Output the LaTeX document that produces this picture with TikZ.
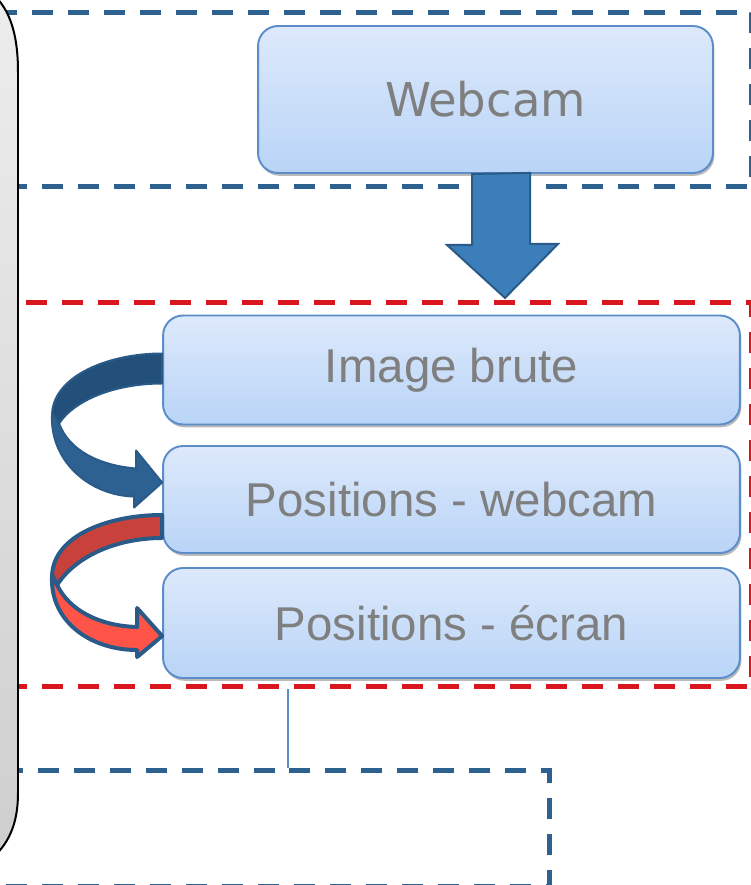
\documentclass[tikz,border=0pt]{standalone}
\usepackage{fontspec}
\setmainfont{Liberation Sans}
\newfontfamily\camfont{DejaVu Sans}
\usetikzlibrary{shadows,calc}

\definecolor{boxtop}{HTML}{DDE9FB}
\definecolor{boxbot}{HTML}{B9D4F7}
\definecolor{boxline}{HTML}{5B8DC8}
\definecolor{txtgray}{HTML}{7F7F7F}
\definecolor{grpblue}{HTML}{2E6190}
\definecolor{grpred}{HTML}{D9161E}
\definecolor{arrblue}{HTML}{3C7EBA}
\definecolor{arredge}{HTML}{2A5B88}
\definecolor{bandblue}{HTML}{22507A}
\definecolor{bandblueb}{HTML}{2D6192}
\definecolor{bandred}{HTML}{C8413A}
\definecolor{bandredb}{HTML}{FF5447}

\begin{document}
\begin{tikzpicture}[x=0.02cm, y=-0.02cm,
    stage/.style={draw=boxline, line width=1.1pt, rounded corners=0.4cm,
        top color=boxtop, bottom color=boxbot, text=txtgray,
        minimum width=11.54cm, font=\fontsize{27}{32}\selectfont,
        drop shadow={shadow xshift=0.8pt, shadow yshift=-1.6pt, fill=black!45, opacity=0.6}},
    grpframe/.style={draw, line width=0.1cm, dash pattern=on 0.42cm off 0.3cm, inner sep=0pt},
    band/.style={draw=arredge, line join=round}]
        \useasboundingbox (0,0) rectangle (750,885);

        % The dashed groups
        \node[grpframe, draw=grpblue, minimum width=15.64cm, minimum height=3.5cm] (camgrp) at (361,99.5) {};
        \node[grpframe, draw=grpred, minimum width=15.64cm, minimum height=7.7cm] (trtgrp) at (361,494.5) {};
        \node[grpframe, draw=grpblue, minimum width=11.6cm, minimum height=2.33cm] (outgrp) at (260,828.25) {};

        % The gray panel on the left
        \draw[line width=0.04cm, top color=black!7, bottom color=black!19]
            (-12,-10) .. controls (8,5) and (18,30) .. (18,72) -- (18,793)
            .. controls (18,825) and (8,845) .. (-10,860) -- (-100,860) -- (-100,-10) -- cycle;

        % The stages
        \node[stage, minimum width=9.1cm, minimum height=2.94cm, font=\camfont\fontsize{26.5}{32}\selectfont] (cam) at (485.5,99.5) {Webcam};
        \node[stage, minimum height=2.18cm] (img) at (451.5,370) {Image brute};
        \node[stage, minimum height=2.14cm] (pw) at (451.5,499.5) {Positions - webcam};
        \node[stage, minimum height=2.2cm] (pe) at (451.5,623) {Positions - écran};

        % The big arrow
        \draw[line width=0.04cm, draw=arredge, fill=arrblue]
            ($(cam.south)+(-13.5,0)$) -- ++(0,71) -- ++(-25,0) -- ($(cam.south)+(19.5,124)$)
            -- ++(53,-54) -- ++(-28,0) -- ++(0,-71) -- cycle;

        % Image brute to Positions - webcam
        \begin{scope}[shift={(img.west)}]
            \draw[band, line width=0.04cm, fill=bandblue] (0,-16.5) .. controls (-53,-16.5) and (-108,5.5) .. (-110,43.5)
                -- (-103,53.5) .. controls (-88,30.5) and (-48,13.5) .. (0,13.5) -- cycle;
            \draw[band, line width=0.04cm, fill=bandblueb] (-110,43.5) .. controls (-113,90.5) and (-73,125.5) .. (-28,126.5)
                -- (-28,137.5) -- (0,112.5) -- (-26,80.5) -- (-26,98.5)
                .. controls (-63,95.5) and (-93,80.5) .. (-103,53.5) -- cycle;
        \end{scope}

        % Positions - webcam to Positions - ecran
        \begin{scope}[shift={(pw.west)}]
            \draw[band, line width=0.08cm, fill=bandred] (0,15.5) .. controls (-53,15.5) and (-108,35.5) .. (-110,75.5)
                -- (-105,85.5) .. controls (-88,58.5) and (-48,38.5) .. (0,38.5) -- cycle;
            \draw[band, line width=0.08cm, fill=bandredb] (-110,75.5) .. controls (-113,120.5) and (-73,150.5) .. (-25,150.5)
                -- (-25,157.5) -- (0,136.5) -- (-25,108.5) -- (-25,127.5)
                .. controls (-63,126.5) and (-93,110.5) .. (-105,85.5) -- cycle;
        \end{scope}

        % The link between the groups
        \coordinate (lnk) at (288,0);
        \draw[boxline, line width=0.03cm] (trtgrp.south -| lnk) -- (outgrp.north -| lnk);
    \end{tikzpicture}
\end{document}
